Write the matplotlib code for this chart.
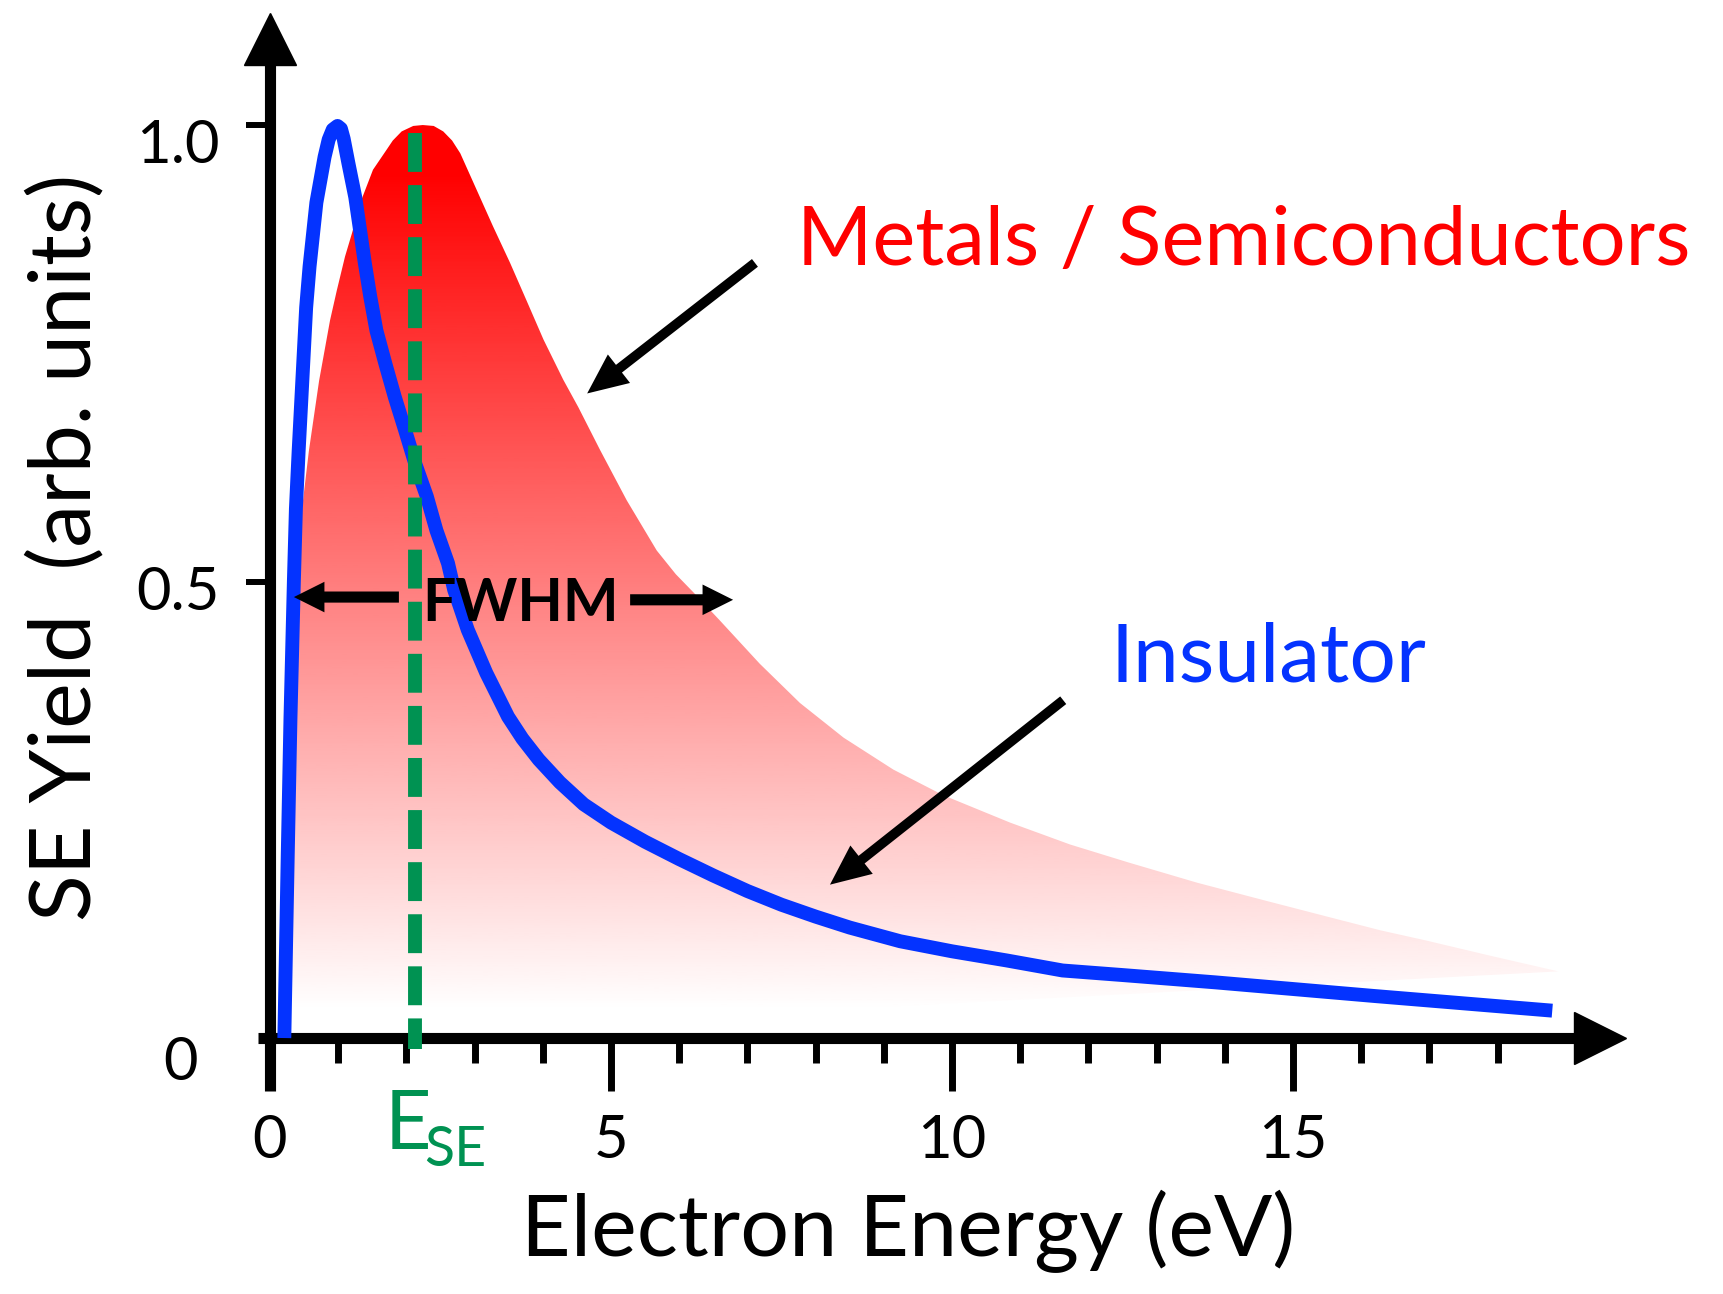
import numpy as np
import matplotlib
matplotlib.use("Agg")
import matplotlib.pyplot as plt
from matplotlib.colors import LinearSegmentedColormap
from matplotlib.patches import Polygon
from matplotlib.transforms import ScaledTranslation

# --- data ------------------------------------------------------------------
# Metals / semiconductors: upper edge of the shaded band (left to right)
metal_x = [0.30, 0.33, 0.37, 0.41, 0.47, 0.57, 0.72, 0.88, 0.98, 1.10, 1.20,
           1.34, 1.51, 1.71, 1.80, 1.93, 2.10, 2.24, 2.40, 2.54, 2.67, 2.79,
           3.03, 3.27, 3.52, 3.76, 4.01, 4.30, 4.52, 4.84, 5.23, 5.67, 5.95,
           6.21, 6.60, 7.18, 7.77, 8.41, 9.14, 9.87, 10.85, 11.73, 12.6, 13.6,
           14.62, 15.5, 16.28, 16.94, 17.9, 18.89]
metal_y = [0.0, 0.20, 0.35, 0.50, 0.58, 0.643, 0.72, 0.786, 0.819, 0.856, 0.881,
           0.918, 0.951, 0.973, 0.983, 0.993, 0.999, 1.0, 0.999, 0.993, 0.983, 0.969,
           0.929, 0.889, 0.849, 0.808, 0.765, 0.721, 0.691, 0.644, 0.589, 0.534, 0.508,
           0.488, 0.457, 0.410, 0.367, 0.329, 0.294, 0.266, 0.236, 0.212, 0.192, 0.170,
           0.150, 0.133, 0.118, 0.107, 0.090, 0.073]
# lower edge of the band (right end back to the start)
metal_base_x = [18.89, 0.30]
metal_base_y = [0.073, 0.0]

# Insulator curve
ins_x = [0.21, 0.26, 0.30, 0.35, 0.38, 0.42, 0.46, 0.53, 0.58, 0.63, 0.68, 0.74,
         0.80, 0.86, 0.92, 0.99, 1.04, 1.08, 1.15, 1.25, 1.32, 1.39, 1.47, 1.56,
         1.69, 1.83, 1.98, 2.13, 2.30, 2.44, 2.61, 2.70, 2.90, 3.17, 3.49, 3.70,
         3.94, 4.25, 4.60, 5.00, 5.50, 6.00, 6.50, 7.00, 7.50, 8.00, 8.50, 9.24,
         10.0, 10.8, 11.62, 12.5, 13.86, 16.2, 18.8]
ins_y = [0.0, 0.20, 0.35, 0.50, 0.58, 0.643, 0.70, 0.80, 0.845, 0.88, 0.915, 0.94,
         0.965, 0.984, 0.995, 0.999, 0.996, 0.985, 0.958, 0.921, 0.885, 0.849, 0.812, 0.775,
         0.739, 0.702, 0.666, 0.629, 0.593, 0.556, 0.520, 0.491, 0.447, 0.400, 0.352, 0.328,
         0.305, 0.280, 0.256, 0.236, 0.215, 0.196, 0.178, 0.161, 0.146, 0.133, 0.121, 0.106,
         0.095, 0.085, 0.074, 0.069, 0.061, 0.046, 0.030]

e_se = 2.13
fwhm_y = 0.483
fwhm_left = (1.89, 0.35)     # tail, tip
fwhm_right = (5.28, 6.79)    # tail, tip
metal_arrow = ((7.11, 0.849), (4.65, 0.706))
ins_arrow = ((11.63, 0.370), (8.21, 0.168))

x_major = [0, 5, 10, 15]
x_minor = [1, 2, 3, 4, 6, 7, 8, 9, 11, 12, 13, 14, 16, 17, 18]
y_major = [0, 0.5, 1.0]
y_labels = ["0", "0.5", "1.0"]

RED = "#FF0000"
BLUE = "#0433FF"
GREEN = "#009252"

plt.rcParams["font.family"] = ["Lato", "DejaVu Sans"]

fig = plt.figure(figsize=(17.23, 12.94), dpi=100)
ax = fig.add_axes([270 / 1723, 0.1978, 1330 / 1723, 0.7719])
ax.set_xlim(0, 19.5)
ax.set_ylim(0, 1.094)

# gradient-filled band for metals / semiconductors
band = Polygon(list(zip(metal_x + metal_base_x, metal_y + metal_base_y)),
               closed=True, fc="none", ec="none")
ax.add_patch(band)
cmap = LinearSegmentedColormap.from_list("wr", ["white", RED])
grad = np.linspace(0, 1, 512).reshape(-1, 1)
im = ax.imshow(grad, extent=(0, 19.5, 0, 1.0), origin="lower", aspect="auto",
               cmap=cmap, vmin=0.03, vmax=0.95, zorder=1)
im.set_clip_path(band)

ax.plot(ins_x, ins_y, color=BLUE, lw=10, solid_capstyle="butt",
        solid_joinstyle="round", zorder=3, clip_on=False)
ax.plot([e_se, e_se], [0.991, -0.012], color=GREEN, lw=10,
        linestyle=(0, (2.8, 0.95)), zorder=4, clip_on=False)

# arrows
def arrow(tail, tip, tw=0.75, hl=2.2, hw=2.2):
    ax.annotate("", xy=tip, xytext=tail,
                arrowprops=dict(arrowstyle=f"simple,head_length={hl},head_width={hw},tail_width={tw}",
                                mutation_scale=10, fc="black", ec="none", lw=0,
                                shrinkA=0, shrinkB=0), zorder=5)

arrow((fwhm_left[0], fwhm_y), (fwhm_left[1], fwhm_y), 0.8)
arrow((fwhm_right[0], fwhm_y - 0.003), (fwhm_right[1], fwhm_y - 0.003), 0.8)
arrow(*metal_arrow, 0.7, 2.9, 2.6)
arrow(*ins_arrow, 0.7, 2.9, 2.6)

ax.text(3.67, 0.457, "FWHM", fontsize=42.5, fontweight="bold", ha="center",
        va="baseline", zorder=6)
ax.text(7.72, 0.847, "Metals / Semiconductors", fontsize=58.5, color=RED,
        ha="left", va="baseline")
ax.text(12.33, 0.391, "Insulator", fontsize=59, color=BLUE, ha="left", va="baseline")
ax.text(1.68, -0.1216, "E", fontsize=58, color=GREEN, ha="left", va="baseline",
        clip_on=False)
ax.text(2.26, -0.140, "SE", fontsize=40, color=GREEN, ha="left", va="baseline",
        clip_on=False)

# axes styling
for s in ("top", "right"):
    ax.spines[s].set_visible(False)
for s in ("left", "bottom"):
    ax.spines[s].set_linewidth(8)
    ax.spines[s].set_capstyle("projecting")
    ax.spines[s].set_zorder(2)

ax.plot([1], [0], marker=">", ms=37, color="k", transform=ax.get_yaxis_transform(),
        clip_on=False, zorder=2)
ax.plot([0], [1], marker="^", ms=37, color="k", transform=ax.get_xaxis_transform(),
        clip_on=False, zorder=2)

ax.set_xticks(x_major)
ax.set_xticklabels([str(v) for v in x_major])
ax.set_xticks(x_minor, minor=True)
ax.set_yticks(y_major)
ax.set_yticklabels(y_labels)
ax.tick_params(axis="x", which="major", direction="out", length=38, width=5,
               pad=17, labelsize=43)
ax.tick_params(axis="x", which="minor", direction="out", length=18, width=5)
ax.tick_params(axis="y", which="major", direction="out", length=17, width=4.3,
               pad=19, labelsize=43)

xt = ax.xaxis.get_major_ticks()[0]
xt.tick1line.set_markeredgewidth(8)
yt = ax.yaxis.get_major_ticks()[0]
yt.tick1line.set_markersize(9)
yt.tick1line.set_markeredgewidth(8)

ytick_shift = [(-22, -20), (0, -6), (0, -16)]
for lab, (dx, dy) in zip(ax.get_yticklabels(), ytick_shift):
    lab.set_transform(lab.get_transform() +
                      ScaledTranslation(dx / 100, dy / 100, fig.dpi_scale_trans))

ax.set_xlabel("Electron Energy (eV)", fontsize=62)
ax.xaxis.label.set_va("baseline")
ax.xaxis.set_label_coords(9.35 / 19.5, -0.2388 / 1.094)
ax.set_ylabel("SE Yield  (arb. units)", fontsize=62, rotation=90,
              rotation_mode="anchor", ha="center", va="baseline")
ax.yaxis.set_label_coords(-0.1353, 0.4915)

fig.savefig("out.png", dpi=100)
